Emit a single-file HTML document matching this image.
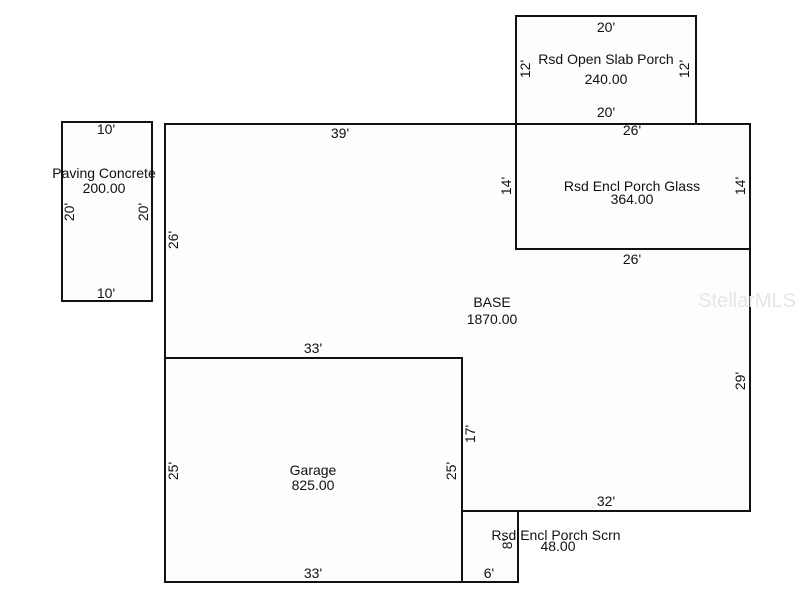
<!DOCTYPE html>
<html><head><style>body{margin:0;background:#fff}svg{display:block}text{font-family:"Liberation Sans",sans-serif;font-size:14px;fill:#111}</style></head>
<body>
<svg width="800" height="600" xmlns="http://www.w3.org/2000/svg">
<g fill="#fdfdfe" stroke="#111" stroke-width="2">
<rect x="62" y="122" width="90" height="179"/>
<polygon points="165,124 750,124 750,511 462,511 462,358 165,358"/>
<rect x="165" y="358" width="297" height="224"/>
<rect x="516" y="124" width="234" height="125"/>
<rect x="516" y="16" width="180" height="108"/>
<rect x="462" y="511" width="56" height="71"/>
</g>
<text x="796" y="307" text-anchor="end" style="font-size:20px;fill:#e6e6e6">StellarMLS</text>
<g text-anchor="middle">
<text x="106" y="134">10'</text>
<text x="104" y="178">Paving Concrete</text>
<text x="104" y="193">200.00</text>
<text x="106" y="298">10'</text>
<text x="606" y="32">20'</text>
<text x="606" y="64">Rsd Open Slab Porch</text>
<text x="606" y="84">240.00</text>
<text x="606" y="117">20'</text>
<text x="340" y="138">39'</text>
<text x="632" y="135">26'</text>
<text x="632" y="191">Rsd Encl Porch Glass</text>
<text x="632" y="204">364.00</text>
<text x="632" y="264">26'</text>
<text x="492" y="307">BASE</text>
<text x="492" y="324">1870.00</text>
<text x="313" y="353">33'</text>
<text x="313" y="475">Garage</text>
<text x="313" y="490">825.00</text>
<text x="606" y="506">32'</text>
<text x="556" y="540">Rsd Encl Porch Scrn</text>
<text x="558" y="551">48.00</text>
<text x="313" y="578">33'</text>
<text x="489" y="578">6'</text>
</g>
<g text-anchor="middle">
<text transform="translate(74,212) rotate(-90)">20'</text>
<text transform="translate(148,212) rotate(-90)">20'</text>
<text transform="translate(178,240) rotate(-90)">26'</text>
<text transform="translate(530,69) rotate(-90)">12'</text>
<text transform="translate(689,69) rotate(-90)">12'</text>
<text transform="translate(511,186) rotate(-90)">14'</text>
<text transform="translate(745,186) rotate(-90)">14'</text>
<text transform="translate(745,381) rotate(-90)">29'</text>
<text transform="translate(475,434) rotate(-90)">17'</text>
<text transform="translate(178,471) rotate(-90)">25'</text>
<text transform="translate(456,471) rotate(-90)">25'</text>
<text transform="translate(512,544) rotate(-90)">8'</text>
</g>
</svg>
</body></html>
